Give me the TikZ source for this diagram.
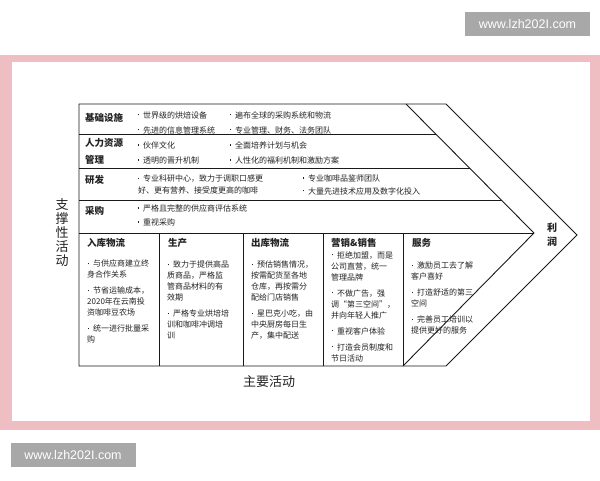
\documentclass[tikz,border=0pt]{standalone}
\usepackage{fontspec}
\setmainfont{Noto Sans CJK SC}
\newfontfamily\wmfont{Liberation Sans}
\definecolor{framepink}{RGB}{239,190,195}
\definecolor{wmgray}{RGB}{168,168,168}
\definecolor{ink}{RGB}{35,35,35}
\newcommand{\bul}{\hspace{0.5pt}\raisebox{2.6pt}{\rule{1.5pt}{1.5pt}}\hspace{4pt}}
\tikzset{
  chart/.style={line width=0.9pt, draw=black!90},
  txt/.style={anchor=west, inner sep=0pt, text=ink, font=\fontsize{8}{11}\selectfont},
  colbody/.style={anchor=north west, inner sep=0pt, align=left, text=ink, font=\fontsize{8}{11}\selectfont},
  head/.style={anchor=west, inner sep=0pt, text=ink, font=\fontsize{9.5}{12}\selectfont\bfseries},
  wmbox/.style={fill=wmgray, text=white, inner sep=0pt, minimum width=125pt, minimum height=24pt, font=\wmfont\fontsize{12.5}{14}\selectfont}
}
\begin{document}
\begin{tikzpicture}[x=1pt, y=-1pt]
\useasboundingbox (0,0) rectangle (600,480);
% pink frame and watermarks
\fill[framepink] (0,55) rectangle (600,430);
\fill[white] (12,62) rectangle (590,421);
\node[wmbox] (wmtop) at (527.5,24) {www.lzh202I.com};
\node[wmbox] (wmbot) at (73,455) {www.lzh202I.com};
% chevron outline
\draw[chart] (79,104) -- (446,104) -- (577,235) -- (446,366) -- (79,366) -- cycle;
\draw[chart] (406,104) -- (534,233) -- (403,366);
\foreach \y/\xe in {134/436, 168/470, 200/502}
  \draw[chart] (79,\y) -- (\xe,\y);
\draw[chart] (79,233) -- (534,233);
\foreach \x in {159, 243, 323, 403}
  \draw[chart] (\x,233) -- (\x,366);
% support activities
\node[head] (infra) at (85,118) {基础设施};
\node[head] (hr1) at (85,143) {人力资源};
\node[head] (hr2) at (85,160) {管理};
\node[head] (rd) at (85,180) {研发};
\node[head] (buy) at (85,211) {采购};
\foreach \x/\y/\t in {137/115/\bul 世界级的烘焙设备, 137/130/\bul 先进的信息管理系统,
    229/115/\bul 遍布全球的采购系统和物流, 229/130/\bul 专业管理、财务、法务团队,
    137/145.5/\bul 伙伴文化, 137/160.5/\bul 透明的晋升机制,
    229/145.5/\bul 全面培养计划与机会, 229/160.5/\bul 人性化的福利机制和激励方案,
    137/179/\bul 专业科研中心，致力于调职口感更, 138/190.5/好、更有营养、接受度更高的咖啡,
    302/178.5/\bul 专业咖啡品鉴师团队, 302/191/\bul 大量先进技术应用及数字化投入,
    137/208.5/\bul 严格且完整的供应商评估系统, 137/222.5/\bul 重视采购}
  \node[txt] at (\x,\y) {\t};
% primary activities
\node[head] (inlog) at (87,243) {入库物流};
\node[head] (prod) at (168,243) {生产};
\node[head] (outlog) at (251,243) {出库物流};
\node[head] (sales) at (331,243) {营销\&销售};
\node[head] (serv) at (412,243) {服务};
\node[colbody] (inlogtxt) at (87,260) {\bul 与供应商建立终\\身合作关系\\[5pt]
  \bul 节省运输成本，\\2020年在云南投\\资咖啡豆农场\\[5pt]\bul 统一进行批量采\\购};
\node[colbody] (prodtxt) at (167,261) {\bul 致力于提供高品\\质商品，严格监\\管商品材料的有\\效期\\[5pt]
  \bul 严格专业烘培培\\训和咖啡冲调培\\训};
\node[colbody] (outlogtxt) at (251,261) {\bul 预估销售情况，\\按需配货至各地\\仓库，再按需分\\配给门店销售\\[5pt]
  \bul 星巴克小吃，由\\中央厨房每日生\\产，集中配送};
\node[colbody] (salestxt) at (331,251) {\bul 拒绝加盟，而是\\公司直营，统一\\管理品牌\\[5pt]
  \bul 不做广告，强\\调“第三空间”，\\并向年轻人推广\\[5pt]\bul 重视客户体验\\[5pt]
  \bul 打造会员制度和\\节日活动};
\node[colbody] (servtxt) at (411,262) {\bul 激励员工去了解\\客户喜好\\[5pt]\bul 打造舒适的第三\\空间\\[5pt]
  \bul 完善员工培训以\\提供更好的服务};
% side labels
\node[head, anchor=center, align=center, font=\fontsize{10}{13.5}\selectfont\bfseries] (profit) at (552,234.5) {利\\润};
\node[anchor=center, align=center, inner sep=0pt, text=ink, font=\fontsize{13}{13.8}\selectfont] (support) at (62,232.5) {支\\撑\\性\\活\\动};
\node[anchor=center, inner sep=0pt, text=ink, font=\fontsize{13}{15}\selectfont] (primary) at (269,382) {主要活动};
\end{tikzpicture}
\end{document}
